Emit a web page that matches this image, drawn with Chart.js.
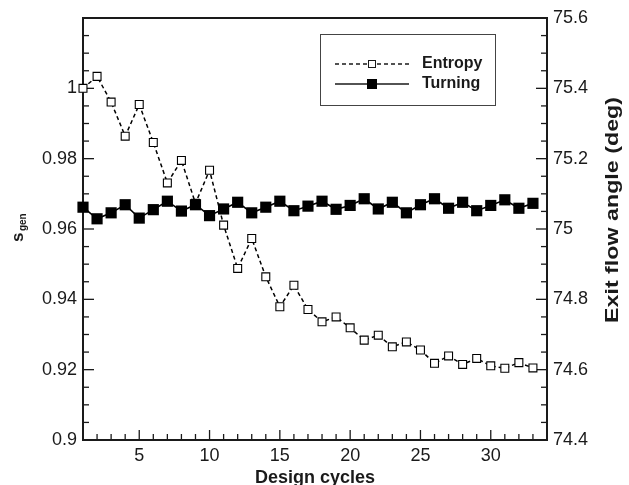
<!DOCTYPE html>
<html>
<head>
<meta charset="utf-8">
<script src="https://cdn.jsdelivr.net/npm/chart.js@4.4.1/dist/chart.umd.min.js"></script>
<style>
  html, body { margin: 0; padding: 0; background: #fff; }
  #wrap { width: 629px; height: 485px; position: relative; }
</style>
</head>
<body>
<div id="wrap"><canvas id="chart"></canvas></div>
<script>
// --- Data ---
const cycles = [1, 2, 3, 4, 5, 6, 7, 8, 9, 10, 11, 12, 13, 14, 15, 16, 17,
                18, 19, 20, 21, 22, 23, 24, 25, 26, 27, 28, 29, 30, 31, 32, 33];
const entropy = [1.0, 1.0034, 0.9961, 0.9864, 0.9954, 0.9846, 0.9731, 0.9795, 0.9673, 0.9767,
                 0.9611, 0.9488, 0.9573, 0.9464, 0.9379, 0.944, 0.9371, 0.9336, 0.935, 0.9319,
                 0.9284, 0.9298, 0.9265, 0.9279, 0.9256, 0.9218, 0.9239, 0.9215, 0.9232, 0.9211,
                 0.9204, 0.922, 0.9205];
const turning = [75.062, 75.029, 75.046, 75.069, 75.031, 75.055, 75.079, 75.051, 75.069, 75.038,
                 75.057, 75.076, 75.046, 75.062, 75.079, 75.052, 75.065, 75.079, 75.056, 75.067,
                 75.086, 75.057, 75.076, 75.046, 75.069, 75.086, 75.059, 75.076, 75.052, 75.067,
                 75.083, 75.059, 75.073];

// tick labels
const xTicks = [5, 10, 15, 20, 25, 30];
const sgenTicks = [0.9, 0.92, 0.94, 0.96, 0.98, 1];
const angleTicks = [74.4, 74.6, 74.8, 75, 75.2, 75.4, 75.6];

const FONT = 'Liberation Sans, Arial, Helvetica, sans-serif';
const INK = '#1a1a1a';

// --- Frame and inward tick marks ---
const framePlugin = {
    id: 'frame',
    beforeDatasetsDraw(chart) {
        const { ctx, chartArea: a, scales } = chart;
        ctx.save();
        ctx.strokeStyle = INK;

        // ticks
        ctx.lineWidth = 1.3;
        const xs = scales.x, yl = scales.y, yr = scales.y1;
        for (let v = 2; v <= 33; v++) {
            const p = xs.getPixelForValue(v);
            const len = v % 5 === 0 ? 10 : 6;
            ctx.beginPath(); ctx.moveTo(p, a.bottom); ctx.lineTo(p, a.bottom - len); ctx.stroke();
        }
        for (let k = 1; k < 24; k++) {
            const p = yl.getPixelForValue(0.9 + k * 0.005);
            const len = k % 4 === 0 ? 11 : 6;
            ctx.beginPath(); ctx.moveTo(a.left, p); ctx.lineTo(a.left + len, p); ctx.stroke();
        }
        for (let k = 1; k < 24; k++) {
            const p = yr.getPixelForValue(74.4 + k * 0.05);
            const len = k % 4 === 0 ? 11 : 6;
            ctx.beginPath(); ctx.moveTo(a.right, p); ctx.lineTo(a.right - len, p); ctx.stroke();
        }

        // box
        ctx.lineWidth = 2;
        ctx.strokeRect(a.left, a.top, a.right - a.left, a.bottom - a.top);
        ctx.restore();
    },
    afterDraw(chart) {
        const { ctx, chartArea: a } = chart;
        ctx.save();
        ctx.fillStyle = INK;

        // x title
        ctx.font = 'bold 18px ' + FONT;
        ctx.textAlign = 'center';
        ctx.textBaseline = 'alphabetic';
        ctx.fillText('Design cycles', (a.left + a.right) / 2, 483);

        // left title: s_gen
        ctx.save();
        ctx.translate(23, 242);
        ctx.rotate(-Math.PI / 2);
        ctx.textAlign = 'left';
        ctx.font = 'bold 17px ' + FONT;
        ctx.fillText('s', 0, 0);
        const ws = ctx.measureText('s').width;
        ctx.font = 'bold 10px ' + FONT;
        ctx.fillText('gen', ws + 1.5, 3);
        ctx.restore();

        // right title
        ctx.save();
        ctx.translate(618, 210);
        ctx.rotate(-Math.PI / 2);
        ctx.font = 'bold 18px ' + FONT;
        ctx.textAlign = 'center';
        const t = 'Exit flow angle (deg)';
        const w = ctx.measureText(t).width;
        ctx.scale(226 / w, 1);
        ctx.fillText(t, 0, 0);
        ctx.restore();

        // legend box
        ctx.strokeStyle = '#444';
        ctx.lineWidth = 1;
        ctx.strokeRect(320.5, 34.5, 175, 71);

        ctx.strokeStyle = INK;
        // Entropy row
        ctx.lineWidth = 1.4;
        ctx.setLineDash([4, 3]);
        ctx.beginPath(); ctx.moveTo(335, 64); ctx.lineTo(409, 64); ctx.stroke();
        ctx.setLineDash([]);
        ctx.fillStyle = '#fff';
        ctx.fillRect(368.5, 60.5, 7, 7);
        ctx.lineWidth = 1;
        ctx.strokeRect(368.5, 60.5, 7, 7);
        // Turning row
        ctx.lineWidth = 1.6;
        ctx.beginPath(); ctx.moveTo(335, 84); ctx.lineTo(409, 84); ctx.stroke();
        ctx.fillStyle = '#000';
        ctx.fillRect(367, 79, 10, 10);

        ctx.fillStyle = INK;
        ctx.font = 'bold 16px ' + FONT;
        ctx.textAlign = 'left';
        ctx.textBaseline = 'middle';
        ctx.fillText('Entropy', 422, 64);
        ctx.fillText('Turning', 422, 84);
        ctx.restore();
    }
};

const tickFont = { family: FONT, size: 18 };
const fmt = v => String(+Number(v).toFixed(3));

new Chart(document.getElementById('chart'), {
    type: 'line',
    data: {
        datasets: [
            {
                label: 'Entropy',
                data: cycles.map((c, i) => ({ x: c, y: entropy[i] })),
                yAxisID: 'y',
                order: 1,
                borderColor: '#000',
                borderWidth: 1.5,
                borderDash: [4, 3],
                pointStyle: 'rect',
                pointRadius: 5.6,
                pointBorderWidth: 1.1,
                pointBorderColor: '#000',
                pointBackgroundColor: '#fff',
                tension: 0,
                clip: false
            },
            {
                label: 'Turning',
                data: cycles.map((c, i) => ({ x: c, y: turning[i] })),
                yAxisID: 'y1',
                order: 0,
                borderColor: '#000',
                borderWidth: 1.6,
                pointStyle: 'rect',
                pointRadius: 7.9,
                pointBorderWidth: 0,
                pointBackgroundColor: '#000',
                tension: 0,
                clip: false
            }
        ]
    },
    options: {
        responsive: true,
        maintainAspectRatio: false,
        animation: false,
        layout: { padding: { top: 18, left: 0, right: 0, bottom: 0 } },
        plugins: { legend: { display: false }, tooltip: { enabled: false } },
        scales: {
            x: {
                type: 'linear',
                min: 1,
                max: 34,
                afterFit: s => { s.height = 45; },
                afterBuildTicks: s => { s.ticks = xTicks.map(v => ({ value: v })); },
                grid: { display: false, drawTicks: false },
                border: { display: false },
                ticks: { font: tickFont, color: INK, padding: 5, maxRotation: 0, autoSkip: false, callback: fmt }
            },
            y: {
                position: 'left',
                min: 0.9,
                max: 1.02,
                afterFit: s => { s.width = 83; },
                afterBuildTicks: s => { s.ticks = sgenTicks.map(v => ({ value: v })); },
                grid: { display: false, drawTicks: false },
                border: { display: false },
                ticks: { font: tickFont, color: INK, padding: 6, autoSkip: false, callback: fmt }
            },
            y1: {
                position: 'right',
                min: 74.4,
                max: 75.6,
                afterFit: s => { s.width = 82; },
                afterBuildTicks: s => { s.ticks = angleTicks.map(v => ({ value: v })); },
                grid: { display: false, drawTicks: false },
                border: { display: false },
                ticks: { font: tickFont, color: INK, padding: 6, autoSkip: false, callback: fmt }
            }
        }
    },
    plugins: [framePlugin]
});
</script>
</body>
</html>
